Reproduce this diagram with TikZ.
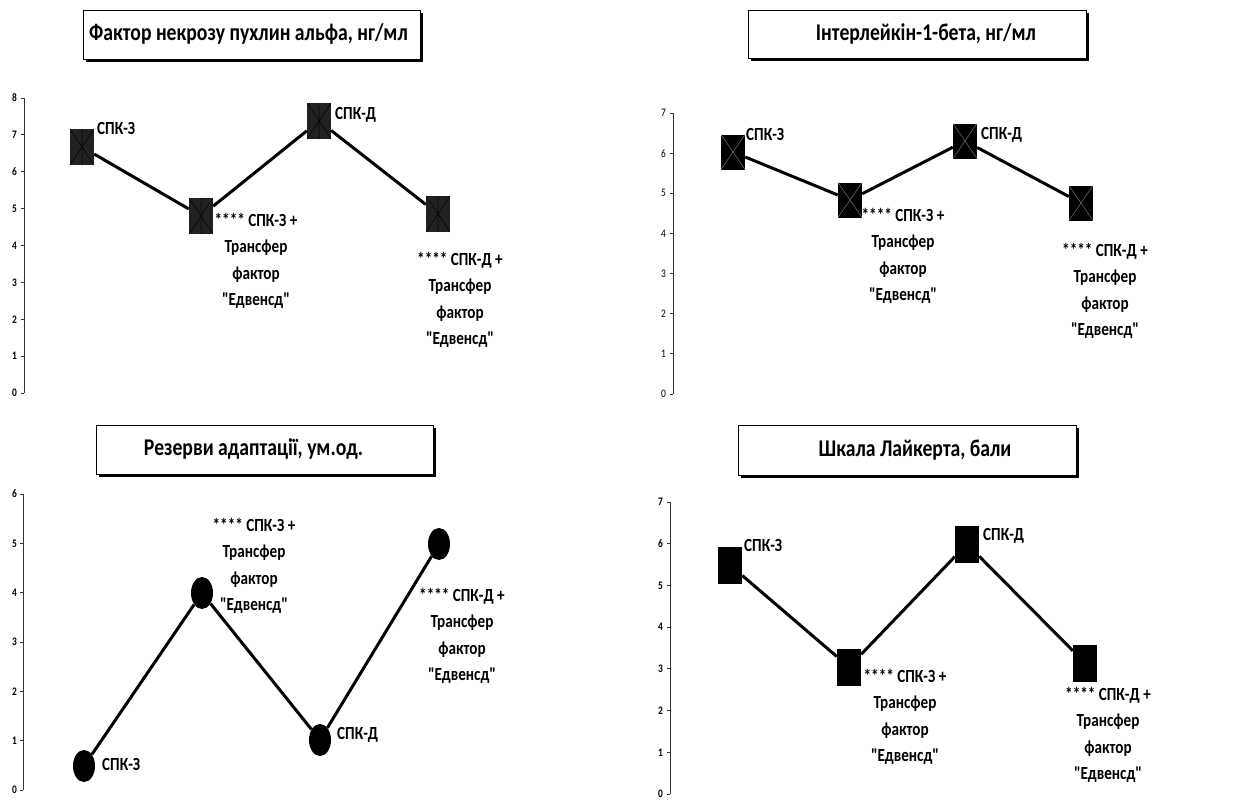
\documentclass[tikz,border=0pt]{standalone}
\usepackage{fontspec}
\setmainfont{Carlito}[FakeStretch=0.82, Ligatures=TeXOff]
\usetikzlibrary{shapes.geometric,shadows}

\tikzset{
  charttitle/.style={draw, fill=white, line width=0.6pt, minimum width=337, minimum height=49,
    font=\fontsize{24}{28}\selectfont\bfseries,
    drop shadow={shadow xshift=3pt, shadow yshift=-3pt, fill=black, opacity=1}},
  axisline/.style={line width=0.8pt, black!80},
  ticklabel/.style={anchor=east, inner sep=0pt, font=\fontsize{11.5}{13}\selectfont\bfseries},
  dataline/.style={line width=3pt},
  pointlabel/.style={inner sep=0pt, align=center, font=\fontsize{18.5}{26.5}\selectfont\bfseries},
  tnfmark/.style={rectangle, fill=black!87, minimum width=24, minimum height=36, inner sep=0pt,
    path picture={\draw[line width=0.5pt]
      (path picture bounding box.north west) -- (path picture bounding box.south east)
      (path picture bounding box.north east) -- (path picture bounding box.south west)
      (path picture bounding box.north) -- (path picture bounding box.south);}},
  ilmark/.style={rectangle, fill=black, minimum width=24, minimum height=35, inner sep=0pt,
    path picture={\draw[line width=0.5pt, black!55]
      (path picture bounding box.north west) -- (path picture bounding box.south east)
      (path picture bounding box.north east) -- (path picture bounding box.south west);}},
  resmark/.style={ellipse, fill=black, minimum width=22, minimum height=32, inner sep=0pt},
  likmark/.style={rectangle, fill=black, minimum width=24, minimum height=37, inner sep=0pt}
}

\begin{document}
\begin{tikzpicture}[x=1pt, y=-1pt]
  \useasboundingbox (0,0) rectangle (1259,800);

  % Chart titles in shadowed frames
  \node[charttitle] (tnfTitle) at (251.5,34.5) {Фактор некрозу пухлин альфа, нг/мл\hspace*{6pt}};
  \node[charttitle, minimum width=338, minimum height=48] (ilTitle) at (917,34) {\hspace*{18pt}Інтерлейкін-1-бета, нг/мл};
  \node[charttitle] (resTitle) at (264.5,449.5) {Резерви адаптації, ум.од.\hspace*{22pt}};
  \node[charttitle, minimum width=338, minimum height=50] (likTitle) at (907,450) {\hspace*{16pt}Шкала Лайкерта, бали};

  % Value axes
  \draw[axisline] (24,98) -- (24,393);
  \foreach \v in {0,...,8} {
    \draw[axisline] (21,393-\v*36.875) -- (24,393-\v*36.875);
    \node[ticklabel] (tnfTick\v) at (17,393-\v*36.875) {\v};
  }
  \draw[axisline] (673,113) -- (673,394);
  \foreach \v in {0,...,7} {
    \draw[axisline] (670,394-\v*40.14) -- (673,394-\v*40.14);
    \node[ticklabel, font=\fontsize{11.5}{13}\selectfont] (ilTick\v) at (666,394-\v*40.14) {\v};
  }
  \draw[axisline] (23,494) -- (23,790);
  \foreach \v in {0,...,6} {
    \draw[axisline] (20,790-\v*49.33) -- (23,790-\v*49.33);
    \node[ticklabel] (resTick\v) at (17,790-\v*49.33) {\v};
  }
  \draw[axisline] (670,502) -- (670,794);
  \foreach \v in {0,...,7} {
    \draw[axisline] (667,794-\v*41.71) -- (670,794-\v*41.71);
    \node[ticklabel] (likTick\v) at (663,794-\v*41.71) {\v};
  }

  % Tumour necrosis factor
  \node[tnfmark] (tnf1) at (82,147) {};
  \node[tnfmark] (tnf2) at (201,216) {};
  \node[tnfmark] (tnf3) at (319,121) {};
  \node[tnfmark] (tnf4) at (438,214) {};
  \draw[dataline] (tnf1) -- (tnf2) -- (tnf3) -- (tnf4);
  \node[pointlabel, anchor=north west] (tnfLab1) at (97,122) {СПК-З};
  \node[pointlabel, anchor=north] (tnfLab2) at (256,213) {**** СПК-З +\\Трансфер\\фактор\\"Едвенсд"};
  \node[pointlabel, anchor=north west] (tnfLab3) at (335,107) {СПК-Д};
  \node[pointlabel, anchor=north] (tnfLab4) at (460,252) {**** СПК-Д +\\Трансфер\\фактор\\"Едвенсд"};

  % Interleukin
  \node[ilmark] (il1) at (733,152) {};
  \node[ilmark] (il2) at (850,200) {};
  \node[ilmark] (il3) at (965,141) {};
  \node[ilmark] (il4) at (1081,203) {};
  \draw[dataline] (il1) -- (il2) -- (il3) -- (il4);
  \node[pointlabel, anchor=north west] (ilLab1) at (746,128) {СПК-З};
  \node[pointlabel, anchor=north] (ilLab2) at (903,208) {**** СПК-З +\\Трансфер\\фактор\\"Едвенсд"};
  \node[pointlabel, anchor=north west] (ilLab3) at (981,127) {СПК-Д};
  \node[pointlabel, anchor=north] (ilLab4) at (1105,243) {**** СПК-Д +\\Трансфер\\фактор\\"Едвенсд"};

  % Adaptation reserves
  \node[resmark] (res1) at (84,766) {};
  \node[resmark] (res2) at (202,593) {};
  \node[resmark] (res3) at (320,740) {};
  \node[resmark] (res4) at (439,544) {};
  \draw[dataline] (res1) -- (res2) -- (res3) -- (res4);
  \node[pointlabel, anchor=north west] (resLab1) at (102,758) {СПК-З};
  \node[pointlabel, anchor=north] (resLab2) at (254,518) {**** СПК-З +\\Трансфер\\фактор\\"Едвенсд"};
  \node[pointlabel, anchor=north west] (resLab3) at (337,727) {СПК-Д};
  \node[pointlabel, anchor=north] (resLab4) at (462,588) {**** СПК-Д +\\Трансфер\\фактор\\"Едвенсд"};

  % Likert scale
  \node[likmark] (lik1) at (730,565) {};
  \node[likmark] (lik2) at (849,667) {};
  \node[likmark] (lik3) at (967,544) {};
  \node[likmark] (lik4) at (1085,663) {};
  \draw[dataline] (lik1) -- (lik2) -- (lik3) -- (lik4);
  \node[pointlabel, anchor=north west] (likLab1) at (744,539) {СПК-З};
  \node[pointlabel, anchor=north] (likLab2) at (905,669) {**** СПК-З +\\Трансфер\\фактор\\"Едвенсд"};
  \node[pointlabel, anchor=north west] (likLab3) at (983,528) {СПК-Д};
  \node[pointlabel, anchor=north] (likLab4) at (1108,687) {**** СПК-Д +\\Трансфер\\фактор\\"Едвенсд"};
\end{tikzpicture}
\end{document}
